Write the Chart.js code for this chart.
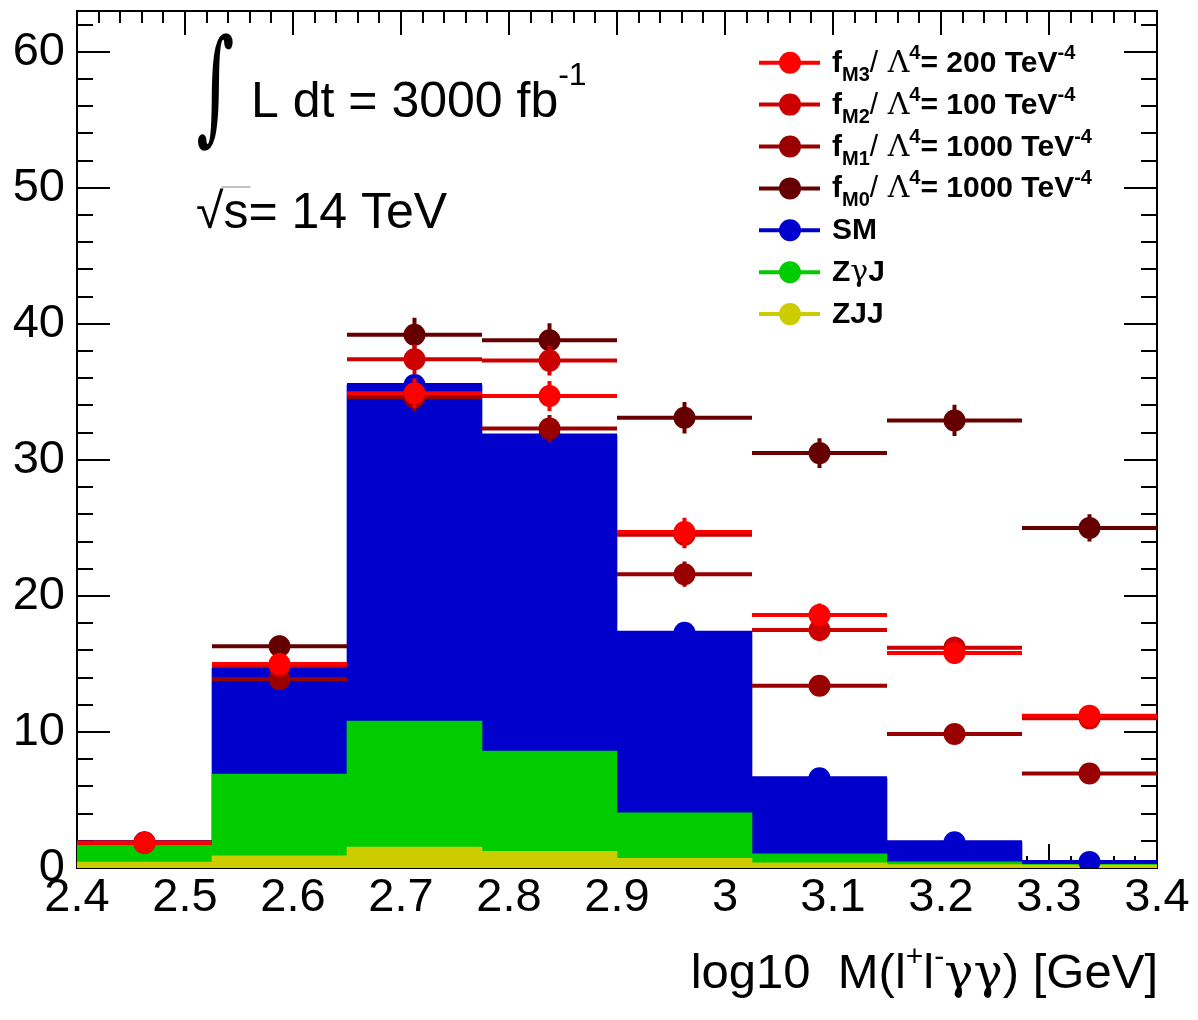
<!DOCTYPE html>
<html>
<head>
<meta charset="utf-8">
<title>log10 M(l+l-γγ)</title>
<script src="https://cdn.jsdelivr.net/npm/chart.js@4.4.1/dist/chart.umd.min.js"></script>
<style>
  html, body { margin: 0; padding: 0; background: #fff; }
  #wrap { width: 1198px; height: 1020px; position: relative; }
</style>
</head>
<body>
<div id="wrap"><canvas id="chart"></canvas></div>
<script>
// bins of log10 M(l+l-gamma gamma)
const binEdges = [2.4, 2.525, 2.65, 2.775, 2.9, 3.025, 3.15, 3.275, 3.4];

// backgrounds (filled histograms)
const smHist  = [1.9, 14.7, 35.5, 31.8, 17.3, 6.6, 1.9, 0.45];
const zgjHist = [1.67, 6.9, 10.8, 8.6, 4.05, 1.04, 0.45, 0.27];
const zjjHist = [0.43, 0.9, 1.53, 1.23, 0.72, 0.38, 0.26, 0.22];
const smErr   = [0.2, 0.5, 0.75, 0.7, 0.55, 0.35, 0.2, 0.1];

// aQGC signals
const fM3 = [1.85, 15.0, 34.9, 34.7, 24.7, 18.6, 15.8, 11.2];
const fM2 = [1.85, 14.85, 37.4, 37.3, 24.5, 17.5, 16.2, 11.0];
const fM1 = [1.85, 13.9, 34.6, 32.3, 21.6, 13.4, 9.85, 6.95];
const fM0 = [1.85, 16.3, 39.2, 38.8, 33.1, 30.5, 32.9, 25.0];
const fM3Err = [0.27, 0.78, 1.1, 1.1, 1.05, 0.85, 0.8, 0.67];
const fM2Err = [0.27, 0.77, 1.1, 1.1, 1.0, 0.84, 0.8, 0.66];
const fM1Err = [0.27, 0.75, 1.05, 1.0, 0.93, 0.73, 0.63, 0.53];
const fM0Err = [0.27, 0.8, 1.25, 1.25, 1.15, 1.1, 1.15, 1.0];

// axis ticks
const xTickValues = [2.4, 2.5, 2.6, 2.7, 2.8, 2.9, 3.0, 3.1, 3.2, 3.3, 3.4];
const xTickLabels = ["2.4", "2.5", "2.6", "2.7", "2.8", "2.9", "3", "3.1", "3.2", "3.3", "3.4"];
const yTickValues = [0, 10, 20, 30, 40, 50, 60];
const yTickLabels = ["0", "10", "20", "30", "40", "50", "60"];

const SANS = '"Liberation Sans", Arial, Helvetica, sans-serif';
const SERIF = '"DejaVu Serif", "Liberation Serif", serif';

const centers = binEdges.slice(0, -1).map((e, i) => (e + binEdges[i + 1]) / 2);
const pts = arr => arr.map((v, i) => ({ x: centers[i], y: v }));

function pointSet(label, values, errs, color, order) {
  return {
    type: 'line', label: label, data: pts(values), xAxisID: 'x2', yAxisID: 'y',
    showLine: false, pointRadius: 11, pointHoverRadius: 11, pointBorderWidth: 0,
    pointBackgroundColor: color, borderColor: color, errY: errs, order: order
  };
}
function histSet(label, values, color, order) {
  return {
    type: 'bar', label: label, data: values, xAxisID: 'x', yAxisID: 'y',
    backgroundColor: color, borderWidth: 0, barPercentage: 1, categoryPercentage: 1,
    grouped: false, order: order
  };
}

// horizontal + vertical error bars, drawn just under each point set
const errorBars = {
  id: 'errorBars',
  beforeDatasetDraw(chart, args) {
    const ds = chart.data.datasets[args.index];
    if (!ds.errY) return;
    const xs = chart.scales.x2, ys = chart.scales.y, ctx = chart.ctx;
    ctx.save();
    ctx.strokeStyle = ds.borderColor;
    ctx.lineWidth = 4;
    ds.data.forEach((p, i) => {
      const y = ys.getPixelForValue(p.y);
      const xc = xs.getPixelForValue(p.x);
      ctx.beginPath();
      ctx.moveTo(xs.getPixelForValue(binEdges[i]), y);
      ctx.lineTo(xs.getPixelForValue(binEdges[i + 1]), y);
      ctx.moveTo(xc, ys.getPixelForValue(p.y - ds.errY[i]));
      ctx.lineTo(xc, ys.getPixelForValue(p.y + ds.errY[i]));
      ctx.stroke();
    });
    ctx.restore();
  }
};

// ROOT style frame with inward ticks on all four sides
const frame = {
  id: 'frame',
  beforeDatasetsDraw(chart) {
    const { ctx, chartArea: a } = chart;
    const xs = chart.scales.x2, ys = chart.scales.y;
    ctx.save();
    ctx.strokeStyle = '#000';
    ctx.lineWidth = 2;
    ctx.beginPath();
    for (let k = 0; k <= 50; k++) {
      const px = Math.round(xs.getPixelForValue(2.4 + 0.02 * k));
      const len = k % 5 === 0 ? 24 : 12;
      ctx.moveTo(px, a.bottom); ctx.lineTo(px, a.bottom - len);
      ctx.moveTo(px, a.top); ctx.lineTo(px, a.top + len);
    }
    for (let v = 0; v <= 62; v += 2) {
      const py = Math.round(ys.getPixelForValue(v));
      const len = v % 10 === 0 ? 33 : 16;
      ctx.moveTo(a.left, py); ctx.lineTo(a.left + len, py);
      ctx.moveTo(a.right, py); ctx.lineTo(a.right - len, py);
    }
    ctx.stroke();
    ctx.strokeRect(a.left, a.top, a.right - a.left, a.bottom - a.top);
    ctx.restore();
  }
};

function drawRich(ctx, x, y, parts, align) {
  const fontOf = p => (p.bold ? 'bold ' : '') + p.size + 'px ' + (p.family || SANS);
  let total = 0;
  parts.forEach(p => { ctx.font = fontOf(p); total += ctx.measureText(p.t).width; });
  let cx = align === 'right' ? x - total : x;
  parts.forEach(p => {
    ctx.font = fontOf(p);
    ctx.fillText(p.t, cx, y + (p.dy || 0));
    cx += ctx.measureText(p.t).width;
  });
  return cx;
}

function sigLabel(sub, value) {
  return [
    { t: 'f', size: 30, bold: true },
    { t: sub, size: 20, bold: true, dy: 9 },
    { t: '/', size: 30 },
    { t: ' Λ', size: 30, family: SERIF },
    { t: '4', size: 20, bold: true, dy: -13 },
    { t: '= ' + value + ' TeV', size: 30, bold: true },
    { t: '-4', size: 20, bold: true, dy: -13 }
  ];
}
const legendRows = [
  { color: '#ff0000', parts: sigLabel('M3', '200') },
  { color: '#cc0000', parts: sigLabel('M2', '100') },
  { color: '#990000', parts: sigLabel('M1', '1000') },
  { color: '#660000', parts: sigLabel('M0', '1000') },
  { color: '#0000cc', parts: [{ t: 'SM', size: 30, bold: true }] },
  { color: '#00cc00', parts: [{ t: 'Z', size: 30, bold: true }, { t: 'γ', size: 30, family: SERIF }, { t: 'J', size: 30, bold: true }] },
  { color: '#cccc00', parts: [{ t: 'ZJJ', size: 30, bold: true }] }
];

const texts = {
  id: 'texts',
  afterDraw(chart) {
    const ctx = chart.ctx;
    ctx.save();
    ctx.fillStyle = '#000';
    ctx.textBaseline = 'alphabetic';

    // legend
    legendRows.forEach((row, i) => {
      const cy = 62.7 + i * 41.9;
      ctx.strokeStyle = row.color;
      ctx.lineWidth = 4;
      ctx.beginPath(); ctx.moveTo(759, cy); ctx.lineTo(820, cy); ctx.stroke();
      ctx.fillStyle = row.color;
      ctx.beginPath(); ctx.arc(790, cy, 11, 0, Math.PI * 2); ctx.fill();
      ctx.fillStyle = '#000';
      drawRich(ctx, 832, cy + 9, row.parts, 'left');
    });

    // integral sign, fitted into its box
    ctx.font = '100px ' + SERIF;
    const m = ctx.measureText('∫');
    const gh = m.actualBoundingBoxAscent + m.actualBoundingBoxDescent;
    const gw = m.actualBoundingBoxLeft + m.actualBoundingBoxRight;
    ctx.save();
    ctx.translate(198, 33);
    ctx.scale(35 / gw, 119 / gh);
    ctx.fillText('∫', m.actualBoundingBoxLeft, m.actualBoundingBoxAscent);
    ctx.restore();

    drawRich(ctx, 251, 117, [
      { t: 'L dt = 3000 fb', size: 50 },
      { t: '-1', size: 32, dy: -32 }
    ], 'left');

    // sqrt(s) line
    ctx.font = '50px ' + SANS;
    ctx.fillText('√', 196, 228);
    const sx = 196 + ctx.measureText('√').width;
    const end = drawRich(ctx, sx, 228, [{ t: 's', size: 50 }], 'left');
    ctx.lineWidth = 1;
    ctx.strokeStyle = '#888';
    ctx.beginPath(); ctx.moveTo(sx - 2, 187); ctx.lineTo(end + 2, 187); ctx.stroke();
    drawRich(ctx, end, 228, [{ t: '= 14 TeV', size: 50 }], 'left');

    // x axis title
    drawRich(ctx, 1158, 988, [
      { t: 'log10  M(l', size: 49 },
      { t: '+', size: 30, dy: -22 },
      { t: 'l', size: 49 },
      { t: '-', size: 30, dy: -22 },
      { t: 'γγ', size: 49, family: SERIF },
      { t: ') [GeV]', size: 49 }
    ], 'right');
    ctx.restore();
  }
};

const ctx = document.getElementById('chart');
new Chart(ctx, {
  type: 'bar',
  data: {
    labels: centers.map(String),
    datasets: [
      pointSet('fM3', fM3, fM3Err, '#ff0000', 0),
      pointSet('fM2', fM2, fM2Err, '#cc0000', 1),
      pointSet('fM1', fM1, fM1Err, '#990000', 2),
      pointSet('fM0', fM0, fM0Err, '#660000', 3),
      pointSet('SM', smHist, smErr, '#0000cc', 4),
      histSet('ZJJ', zjjHist, '#cccc00', 5),
      histSet('ZγJ', zgjHist, '#00cc00', 6),
      histSet('SM', smHist, '#0000cc', 7)
    ]
  },
  options: {
    responsive: true,
    maintainAspectRatio: false,
    animation: false,
    layout: { padding: { top: 11, right: 41, left: 0, bottom: 0 } },
    plugins: { legend: { display: false }, tooltip: { enabled: false } },
    scales: {
      x: { type: 'category', display: false, offset: true },
      x2: {
        type: 'linear', position: 'bottom', min: 2.4, max: 3.4, offset: false,
        grid: { display: false, drawTicks: false }, border: { display: false },
        afterBuildTicks: s => { s.ticks = xTickValues.map(v => ({ value: v })); },
        afterFit: s => { s.height = 152; s.paddingLeft = 0; s.paddingRight = 0; },
        ticks: {
          autoSkip: false, maxRotation: 0, padding: 2, color: '#000',
          font: { family: SANS, size: 47 },
          callback: (v, i) => xTickLabels[i]
        }
      },
      y: {
        type: 'linear', min: 0, max: 63,
        grid: { display: false, drawTicks: false }, border: { display: false },
        afterBuildTicks: s => { s.ticks = yTickValues.map(v => ({ value: v })); },
        afterFit: s => { s.width = 77; s.paddingTop = 0; s.paddingBottom = 0; },
        ticks: {
          padding: 12, color: '#000',
          font: { family: SANS, size: 47 },
          callback: (v, i) => yTickLabels[i]
        }
      }
    }
  },
  plugins: [errorBars, frame, texts]
});
</script>
</body>
</html>
